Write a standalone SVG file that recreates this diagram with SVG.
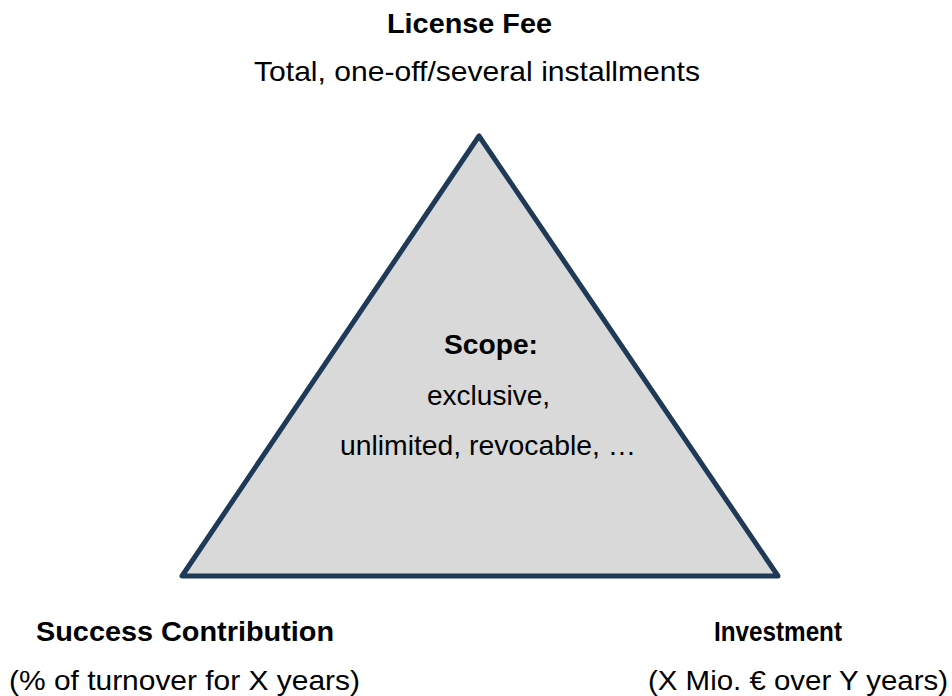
<svg xmlns="http://www.w3.org/2000/svg" width="952" height="696" viewBox="0 0 952 696">
<style>
text { font-family: "Liberation Sans", Arial, sans-serif; font-size: 28px; fill: #000; }
.b { font-weight: bold; }
.tri { fill: #d9d9d9; stroke: #1e3a57; stroke-width: 5; stroke-linejoin: round; }
</style>
<rect width="952" height="696" fill="#fff"/>
<g id="connectors"></g>
<g id="scope">
<polygon class="tri" points="479,136 182,576 778,576"/>
<text class="b" x="444" y="354" textLength="94" lengthAdjust="spacingAndGlyphs">Scope:</text>
<text x="427" y="405" textLength="123" lengthAdjust="spacingAndGlyphs">exclusive,</text>
<text x="340" y="455" textLength="296" lengthAdjust="spacingAndGlyphs">unlimited, revocable, …</text>
</g>
<g id="license-fee">
<text class="b" x="387" y="33" textLength="165" lengthAdjust="spacingAndGlyphs">License Fee</text>
<text x="254" y="81" textLength="446" lengthAdjust="spacingAndGlyphs">Total, one-off/several installments</text>
</g>
<g id="success-contribution">
<text class="b" x="36" y="641" textLength="298" lengthAdjust="spacingAndGlyphs">Success Contribution</text>
<text x="9" y="690" textLength="351" lengthAdjust="spacingAndGlyphs">(% of turnover for X years)</text>
</g>
<g id="investment">
<text class="b" x="714" y="641" textLength="128" lengthAdjust="spacingAndGlyphs">Investment</text>
<text x="648" y="690" textLength="300" lengthAdjust="spacingAndGlyphs">(X Mio. € over Y years)</text>
</g>
</svg>
